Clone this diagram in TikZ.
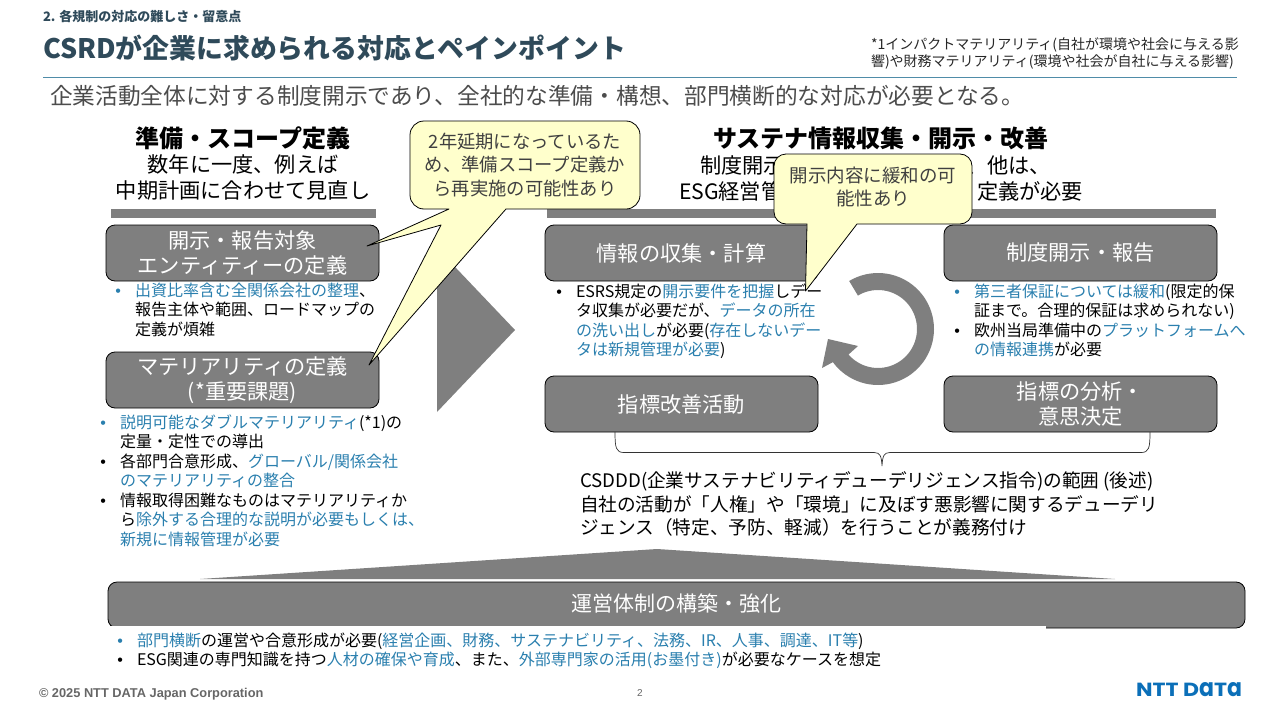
\documentclass[tikz,border=0pt]{standalone}
\usepackage{fontspec}
\setmainfont{Noto Sans CJK JP}
\newfontfamily\latinfont{Liberation Sans}
\newfontfamily\logofont{Poppins}
\definecolor{titlecol}{HTML}{2F4A5A}
\definecolor{rulecol}{HTML}{4F8CA8}
\definecolor{linkblue}{HTML}{2A7FAE}
\definecolor{boxgrey}{HTML}{7F7F7F}
\definecolor{calloutfill}{HTML}{FFFFCC}
\definecolor{calltext}{HTML}{404040}
\definecolor{logoblue}{HTML}{0B6FB8}
\newcommand{\bl}[1]{\textcolor{linkblue}{#1}}
\newcommand{\bu}[1][black]{\llap{\textcolor{#1}{\latinfont •}\hspace{14pt}}}
\newcommand{\fs}[2]{\fontsize{#1pt}{#2pt}\selectfont}
\tikzset{
  x=1pt,y=-1pt,
  every node/.style={inner sep=0pt,outer sep=0pt},
  greybox/.style={draw=black,line width=0.8pt,fill=boxgrey,rounded corners=9pt,text=white,font=\fs{21.2}{25},align=center,minimum width=273pt,minimum height=56pt,anchor=north west},
  body/.style={font=\fs{16}{19.5},align=left,anchor=north west},
  headb/.style={font=\bfseries\fs{24}{28},align=center},
  subh/.style={font=\fs{21.2}{26},align=center},
  callout/.style={draw=black,line width=0.8pt,fill=calloutfill,line join=round},
  calltxt/.style={font=\fs{18.3}{23.5},align=center,text=calltext},
  greyfill/.style={fill=boxgrey,draw=none}
}
\begin{document}
\begin{tikzpicture}
\useasboundingbox (0,0) rectangle (1280,720);
% header
\node[anchor=west,font=\bfseries\fs{13}{15},text=titlecol] (crumb) at (43,17) {2. 各規制の対応の難しさ・留意点};
\node[anchor=west,font=\bfseries\fs{26.85}{32},text=titlecol] (title) at (43,48) {CSRDが企業に求められる対応とペインポイント};
\node[anchor=north west,font=\fs{14}{17},align=left,text=black!85] (note) at (871,37.5) {*1インパクトマテリアリティ(自社が環境や社会に与える影\\響)や財務マテリアリティ(環境や社会が自社に与える影響)};
\draw[rulecol,line width=1pt] (43,77.5) -- (1237,77.5);
\node[anchor=west,font=\fs{22.7}{26},text=black!70] (lead) at (50,96) {企業活動全体に対する制度開示であり、全社的な準備・構想、部門横断的な対応が必要となる。};
% headers left
\node[headb] (h1) at (243,138) {準備・スコープ定義};
\node[subh] (s1) at (243,177.5) {数年に一度、例えば\\中期計画に合わせて見直し};
\fill[boxgrey] (111,209) rectangle (376,218);
% headers right
\node[headb] (h2) at (881,138) {サステナ情報収集・開示・改善};
\node[anchor=west,font=\fs{21.2}{26}] (s2a) at (700,165) {制度開示};
\node[anchor=east,font=\fs{21.2}{26}] (s2b) at (1051,165) {、他は、};
\node[anchor=west,font=\fs{21.2}{26}] (s2c) at (679,191) {ESG経営管};
\node[anchor=east,font=\fs{21.2}{26}] (s2d) at (1083,191) {定義が必要};
\fill[boxgrey] (547,209) rectangle (1216,218);
% big arrow
\fill[boxgrey] (437,248) -- (515,330) -- (437,412) -- cycle;
% boxes
\node[greybox] (entity) at (106,225) {開示・報告対象\\エンティティーの定義};
\node[greybox] (material) at (106,352) {マテリアリティの定義\\(*重要課題)};
\node[greybox] (collect) at (545,225) {情報の収集・計算};
\node[greybox] (report) at (944,225) {制度開示・報告};
\node[greybox] (improve) at (545,376) {指標改善活動};
\node[greybox] (analysis) at (944,376) {指標の分析・\\意思決定};
% body text
\node[body] (ta) at (135,283) {\bu[linkblue]\bl{出資比率含む全関係会社の整理}、\\報告主体や範囲、ロードマップの\\定義が煩雑};
\node[body] (tb) at (120,414.5) {\bu[linkblue]\bl{説明可能なダブルマテリアリティ}(*1)の\\定量・定性での導出\\\bu 各部門合意形成、\bl{グローバル/関係会社}\\\bl{のマテリアリティの整合}\\\bu 情報取得困難なものはマテリアリティか\\ら\bl{除外する合理的な説明が必要もしくは、}\\\bl{新規に情報管理が必要}};
\node[body] (tc) at (576,283.5) {\bu ESRS規定の\bl{開示要件を把握}しデー\\タ収集が必要だが、\bl{データの所在}\\\bl{の洗い出し}が必要(\bl{存在しないデー}\\\bl{タは新規管理が必要})};
\node[body] (td) at (974,283.5) {\bu[linkblue]\bl{第三者保証については緩和}(限定的保\\証まで。合理的保証は求められない)\\\bu 欧州当局準備中の\bl{プラットフォームへ}\\\bl{の情報連携}が必要};
% cycle arrow
\fill[boxgrey] plot[domain=121:-143.7,samples=60] ({878+56*cos(\x)},{329-56*sin(\x)})
  -- (822,368) -- (828,339) -- (858,346) -- (848,355)
  -- plot[domain=-139:121,samples=60] ({878+39*cos(\x)},{329-39*sin(\x)}) -- cycle;
% bracket
\draw[black!80,line width=0.7pt] (615,432) .. controls (615,448) and (616,452.5) .. (624,452.5) -- (874,452.5) .. controls (880,452.5) and (881.5,456) .. (882,466) .. controls (882.5,456) and (884,452.5) .. (890,452.5) -- (1141,452.5) .. controls (1149,452.5) and (1150,448) .. (1150,432);
\node[anchor=north west,font=\fs{18.65}{23.5},align=left] (csddd) at (580,472) {CSDDD(企業サステナビリティデューデリジェンス指令)の範囲 (後述)\\自社の活動が「人権」や「環境」に及ぼす悪影響に関するデューデリ\\ジェンス（特定、予防、軽減）を行うことが義務付け};
% bottom
\fill[boxgrey] (200,579) -- (657,549) -- (1115,579) -- cycle;
\node[draw=black,line width=0.8pt,fill=boxgrey,rounded corners=9pt,minimum width=1137pt,minimum height=46pt,anchor=north west] (base) at (108,582) {};
\fill[white] (105,625.5) rectangle (1046,632);
\node[text=white,font=\fs{21}{25}] (baselabel) at (676,604) {運営体制の構築・強化};
\node[body] (te) at (137,632.5) {\bu[linkblue]\bl{部門横断}の運営や合意形成が必要(\bl{経営企画、財務、サステナビリティ、法務、IR、人事、調達、IT等})\\\bu ESG関連の専門知識を持つ\bl{人材の確保や育成}、また、\bl{外部専門家の活用(お墨付き)}が必要なケースを想定};
% callouts
\draw[callout] (449,209) [rounded corners=14pt] -- (410,209) -- (410,121) -- (640,121) -- (640,209) -- (530,209) [sharp corners] -- (506,209) -- (369,365) -- (441,225) -- (367,246) -- cycle;
\node[calltxt] (c1) at (525,165) {2年延期になっているた\\め、準備スコープ定義か\\ら再実施の可能性あり};
\draw[callout] (807,224) [rounded corners=12pt] -- (774,224) -- (774,154) -- (972,154) -- (972,224) -- (880,224) [sharp corners] -- (857,224) -- (805.5,291) -- cycle;
\node[calltxt,font=\fs{18.5}{23.5}] (c2) at (873,187) {開示内容に緩和の可\\能性あり};
% footer
\node[anchor=west,font=\latinfont\bfseries\fs{12.8}{14},text=black!60] (copy) at (39,694) {© 2025 NTT DATA Japan Corporation};
\node[font=\latinfont\fs{10}{12},text=black!60] (page) at (640,693) {2};
\node[anchor=west,text=logoblue,font=\logofont\bfseries\fs{18}{20}] (logo) at (1136,690) {\resizebox{106pt}{14pt}{NTT D\scalebox{1}[1.3]{a}T\scalebox{1}[1.3]{a}}};
\end{tikzpicture}
\end{document}
